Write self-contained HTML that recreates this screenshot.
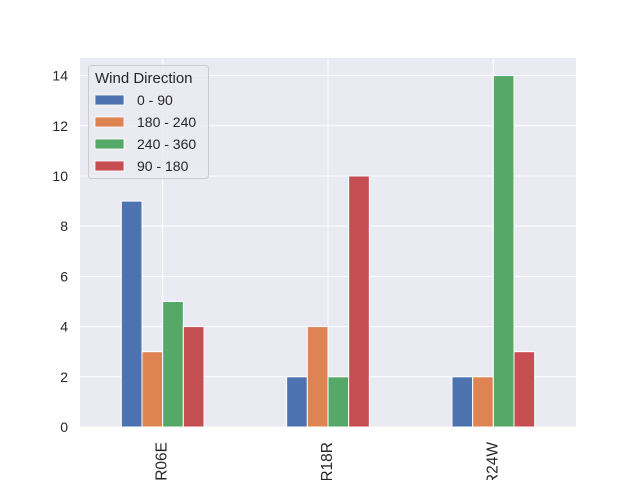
<!DOCTYPE html>
<html><head><meta charset="utf-8"><style>body{margin:0;background:#fff}svg{display:block;font-family:"Liberation Sans","DejaVu Sans",sans-serif}</style></head>
<body>
<svg id="c" width="640" height="480"></svg>
<script>
const categories=["R06E","R18R","R24W"];
const seriesNames=["0 - 90","180 - 240","240 - 360","90 - 180"];
const colors=["#4c72b0","#dd8452","#55a868","#c44e52"];
const s0=[9,2,2];
const s1=[3,4,2];
const s2=[5,2,14];
const s3=[4,10,3];
const yTicks=[0,2,4,6,8,10,12,14];
const series=[s0,s1,s2,s3];
const L=80,R=576,T=58,B=427,yMax=14.7;
const NS="http://www.w3.org/2000/svg";
const svg=document.getElementById('c');
function y(v){return B-(v/yMax)*(B-T);}
const bw=(R-L)/categories.length;
function x(i){return L+bw*(i+0.5);}
function mk(t,a,p){const e=document.createElementNS(NS,t);for(const k in a)e.setAttribute(k,a[k]);(p||svg).appendChild(e);return e;}
const bg=mk('rect',{x:L,y:T,width:R-L,height:B-T,fill:'#eaeaf2'});


yTicks.forEach(t=>{
 const g=mk('line',{x1:L,x2:R,y1:y(t),y2:y(t),stroke:'#fff','stroke-width':1});
 
 
 const tx=mk('text',{x:L-12,y:y(t)+5,'text-anchor':'end','font-size':14,fill:'#262626'});
 tx.textContent=t;
 
 
});
categories.forEach((c,i)=>{
 const g=mk('line',{x1:x(i),x2:x(i),y1:T,y2:B,stroke:'#fff','stroke-width':1});
 
 
 const tx=mk('text',{transform:`translate(${x(i)+4},442) rotate(-90)`,'text-anchor':'end','font-size':15.5,fill:'#262626'});
 tx.textContent=c;
 
 
});
const w=bw*0.5/series.length;
series.forEach((s,j)=>{
 s.forEach((v,i)=>{
  const bx=x(i)-bw*0.25+j*w;
  const r=mk('rect',{x:bx,y:y(v),width:w,height:B-y(v),fill:colors[j],stroke:'#fff','stroke-width':1});
  
  
 });
});
const lg=mk('g',{});


mk('rect',{x:88.5,y:65.5,width:120,height:113,rx:3,fill:'#eaeaf2','fill-opacity':0.8,stroke:'#cccccc'},lg);
const lt=mk('text',{x:95,y:83,'font-size':15,fill:'#262626'},lg);
lt.textContent='Wind Direction';


seriesNames.forEach((n,j)=>{
 const yy=100+j*22;
 const e=mk('g',{},lg);
 
 
 mk('rect',{x:95,y:yy-5,width:29,height:10,fill:colors[j],stroke:'#fff','stroke-width':0.8},e);
 const t=mk('text',{x:137,y:yy+5,'font-size':14,fill:'#262626'},e);
 t.textContent=n;
});
</script>
</body></html>
